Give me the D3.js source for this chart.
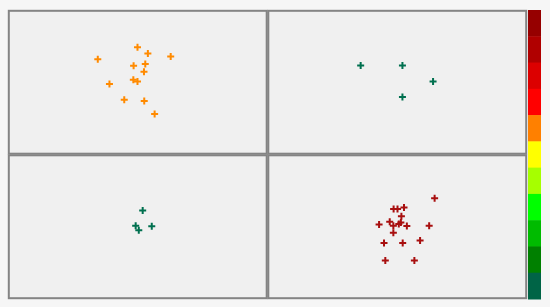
<!DOCTYPE html>
<html><head><meta charset="utf-8">
<script src="https://cdn.jsdelivr.net/npm/d3@7"></script>
<style>html,body{margin:0;padding:0;background:#f6f6f6;}svg{display:block;}</style>
</head><body>
<svg id="c" width="550" height="307"></svg>
<script>
// Data (panel-relative values, 0-100 on both axes)
const panel1 = [[49.9,74.3],[53.9,69.9],[62.7,67.8],[34.6,66.0],[48.4,61.4],[52.9,62.6],[52.4,57.2],[48.3,51.7],[49.9,50.6],[39.1,48.8],[44.8,37.9],[52.5,37.0],[56.5,28.1]];
const panel2 = [[35.9,61.6],[52.0,61.6],[63.8,50.6],[52.0,39.8]];
const panel3 = [[51.9,61.3],[49.2,50.7],[50.4,47.6],[55.4,50.3]];
const panel4 = [[64.4,69.7],[48.6,62.3],[50.1,62.3],[52.6,63.4],[51.6,57.2],[43.0,51.6],[47.1,53.5],[48.5,50.7],[50.6,51.9],[51.4,53.0],[53.7,50.5],[62.3,50.7],[48.5,45.8],[44.9,38.7],[52.1,38.7],[58.8,40.5],[45.4,26.6],[56.6,26.6]];
const panelColors = ["#ff8a00","#00704f","#00704f","#a80f0f"];
const legendColors = ["#960000","#b00000","#dc0000","#ff0000","#ff8000","#ffff00","#a6ff00","#00ff00","#00bb00","#008000","#006446"];

const svg = d3.select("#c");
const gx = 8, gy = 10, gw = 519, gh = 289;
const cols = d3.scaleBand().domain([0,1]).range([gx, gx+gw]).paddingInner(0);
const rows = d3.scaleBand().domain([0,1]).range([gy, gy+gh]).paddingInner(0);
const panels = [panel1, panel2, panel3, panel4];

panels.forEach((pts, i) => {
  const c = i % 2, r = Math.floor(i / 2);
  const x0 = cols(c), y0 = rows(r), w = cols.bandwidth(), h = rows.bandwidth();
  const g = svg.append("g");
  g.append("rect").attr("x", x0 + 0.8).attr("y", y0 + 0.8).attr("width", w - 1.6).attr("height", h - 1.6)
    .attr("fill", "#f0f0f0").attr("stroke", "#848484").attr("stroke-width", 2);
  const xs = d3.scaleLinear().domain([0,100]).range([x0, x0 + w]);
  const ys = d3.scaleLinear().domain([0,100]).range([y0 + h, y0]);
  g.selectAll("path.m").data(pts).join("path")
    .attr("class","m")
    .attr("d", d => { const x = xs(d[0]), y = ys(d[1]); return `M${x-3.5},${y}H${x+3.5}M${x},${y-3.5}V${y+3.5}`; })
    .attr("stroke", panelColors[i]).attr("stroke-width", 2).attr("fill","none");
});

// colour bar
const ly = d3.scaleBand().domain(d3.range(legendColors.length)).range([gy, gy + gh]);
svg.append("g").selectAll("rect").data(legendColors).join("rect")
  .attr("x", 528).attr("width", 13)
  .attr("y", (d,i) => ly(i)).attr("height", ly.bandwidth() + 0.5)
  .attr("fill", d => d);
</script>
</body></html>
